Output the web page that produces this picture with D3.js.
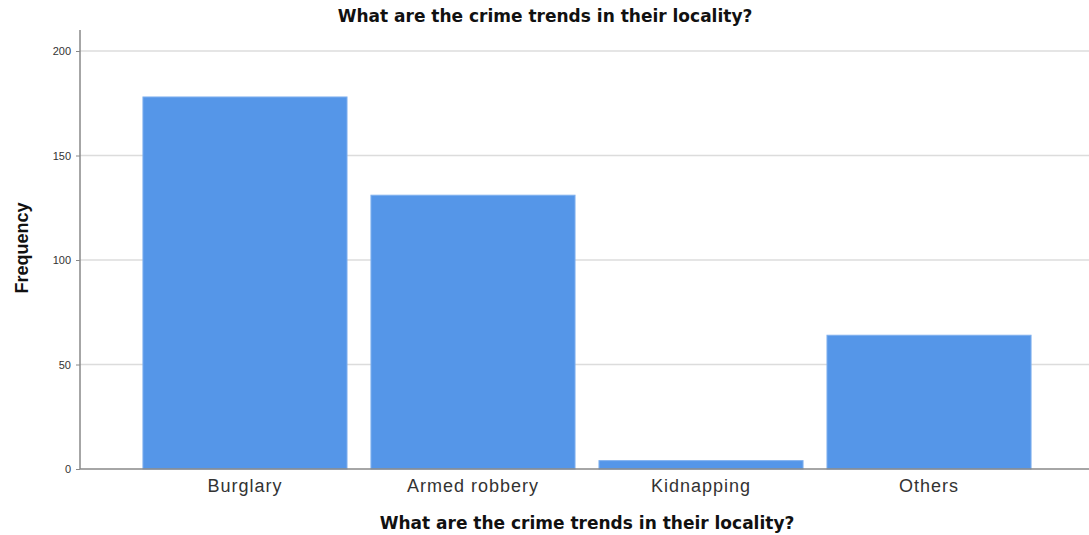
<!DOCTYPE html>
<html>
<head>
<meta charset="utf-8">
<script src="https://cdn.jsdelivr.net/npm/d3@7"></script>
<style>
  body { margin: 0; background: #fff; }
</style>
</head>
<body>
<svg width="1089" height="535"></svg>
<script>
const categories = ["Burglary", "Armed robbery", "Kidnapping", "Others"];
const frequencies = [178, 131, 4, 64];
const yTicks = [0, 50, 100, 150, 200];
const chartTitle = "What are the crime trends in their locality?";
const xTitle = "What are the crime trends in their locality?";
const yTitle = "Frequency";

const arial = "Arial, 'Liberation Sans', sans-serif";
const dejavu = "'DejaVu Sans', Verdana, sans-serif";

var svg = d3.select("svg");

// Scales
var x = d3.scaleBand().domain(categories).range([119, 1055]).padding(0.105);
var y = d3.scaleLinear().domain([0, 200]).range([469, 51]);

// Gridlines
svg.append("g")
    .selectAll("line")
    .data(yTicks.filter(d => d > 0))
    .enter().append("line")
    .attr("x1", 80)
    .attr("x2", 1089)
    .attr("y1", d => y(d))
    .attr("y2", d => y(d))
    .attr("stroke", "#dcdcdc")
    .attr("stroke-width", 1.5);

// Bars
svg.append("g")
    .selectAll("rect")
    .data(categories)
    .enter().append("rect")
    .attr("x", d => x(d))
    .attr("y", (d, i) => y(frequencies[i]))
    .attr("width", x.bandwidth())
    .attr("height", (d, i) => y(0) - y(frequencies[i]))
    .attr("fill", "#5596e8")
    .attr("stroke", "#7fb0ee")
    .attr("stroke-width", 1);

// Y axis
var yAxis = svg.append("g")
    .attr("transform", "translate(80,0)")
    .call(d3.axisLeft(y).tickValues(yTicks).tickSize(4).tickPadding(5));
yAxis.select(".domain").remove();
yAxis.selectAll(".tick line").attr("stroke", "#888");
yAxis.selectAll(".tick text")
    .style("font-family", arial)
    .style("font-size", "11px")
    .attr("fill", "#333");
svg.append("line")
    .attr("x1", 80).attr("x2", 80)
    .attr("y1", 30).attr("y2", 469)
    .attr("stroke", "#888").attr("stroke-width", 1.5);

// X axis
var xAxis = svg.append("g")
    .attr("transform", "translate(0,469)")
    .call(d3.axisBottom(x).tickSize(0).tickPadding(10));
xAxis.select(".domain").remove();
xAxis.selectAll(".tick text")
    .style("font-family", arial)
    .style("font-size", "18px")
    .style("letter-spacing", "1px")
    .attr("fill", "#333");
svg.append("line")
    .attr("x1", 80).attr("x2", 1089)
    .attr("y1", 469).attr("y2", 469)
    .attr("stroke", "#888").attr("stroke-width", 1.5);

// Titles
svg.append("text")
    .attr("x", 545)
    .attr("y", 22)
    .attr("text-anchor", "middle")
    .style("font-family", dejavu)
    .style("font-size", "17px")
    .style("font-weight", "bold")
    .attr("fill", "#111")
    .text(chartTitle);

svg.append("text")
    .attr("x", 587)
    .attr("y", 529)
    .attr("text-anchor", "middle")
    .style("font-family", dejavu)
    .style("font-size", "17px")
    .style("font-weight", "bold")
    .attr("fill", "#111")
    .text(xTitle);

svg.append("text")
    .attr("transform", "translate(28,248) rotate(-90)")
    .attr("text-anchor", "middle")
    .style("font-family", arial)
    .style("font-size", "18px")
    .style("font-weight", "bold")
    .attr("fill", "#111")
    .text(yTitle);
</script>
</body>
</html>
